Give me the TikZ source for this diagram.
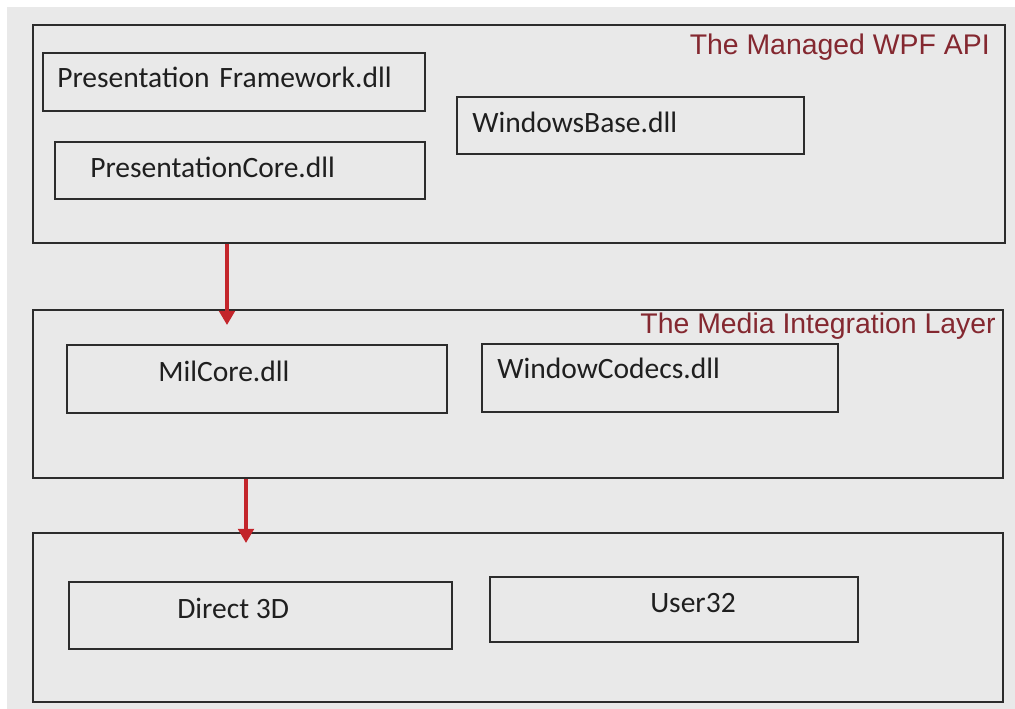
\documentclass[tikz,border=0pt]{standalone}
\usepackage{fontspec}
\setmainfont{Carlito}
\newfontfamily\titlefont{Liberation Sans}
\usetikzlibrary{arrows.meta}
\definecolor{panelgray}{HTML}{E9E9E9}
\definecolor{edgegray}{HTML}{2C2C2C}
\definecolor{titlered}{HTML}{842830}
\definecolor{flowred}{HTML}{C3252B}

\begin{document}
\begin{tikzpicture}
  [x=0.025cm,y=-0.025cm,
   layer/.style={shape=rectangle,draw=edgegray,line width=1.5pt,inner sep=0pt},
   dll/.style={shape=rectangle,draw=edgegray,line width=1.5pt,inner sep=0pt},
   dlltext/.style={anchor=base west,inner sep=0pt,text=black!88,
                   font=\fontsize{21}{25}\selectfont},
   layertitle/.style={anchor=base east,inner sep=0pt,text=titlered,
                      font=\titlefont\fontsize{20.2}{24}\selectfont},
   flow/.style={draw=flowred,line width=2.6pt,-{Triangle[length=10pt,width=11pt]}}]
\useasboundingbox (0,0) rectangle (1015,709);
\fill [white] (0,0) rectangle (1015,709);
\fill [panelgray] (7,7) rectangle (1015,709);

% layers
\node [layer,minimum width=24.3cm,minimum height=5.45cm]   (wpf) at (519,134)   {};
\node [layer,minimum width=24.25cm,minimum height=4.2cm]   (mil) at (518,394)   {};
\node [layer,minimum width=24.25cm,minimum height=4.225cm] (os)  at (518,617.5) {};

\node [layertitle] (wpftitle) at (990,55)  {The Managed WPF API};
\node [layertitle] (miltitle) at (996,333) {The Media Integration Layer};

% dll boxes
\node [dll,minimum width=9.55cm,minimum height=1.45cm]   (pfw)   at (234,82)    {};
\node [dll,minimum width=9.25cm,minimum height=1.425cm]  (pcore) at (240,170.5) {};
\node [dll,minimum width=8.675cm,minimum height=1.425cm] (wbase) at (630.5,125.5) {};
\node [dll,minimum width=9.5cm,minimum height=1.7cm]     (milc)  at (257,379)   {};
\node [dll,minimum width=8.9cm,minimum height=1.7cm]     (wcod)  at (660,378)   {};
\node [dll,minimum width=9.575cm,minimum height=1.675cm] (d3d)   at (260.5,615.5) {};
\node [dll,minimum width=9.2cm,minimum height=1.625cm]   (u32)   at (674,609.5) {};

\node [dlltext] (pfwtext)   at (57,88)   {Presentation\,\,Framework.dll};
\node [dlltext] (pcoretext) at (90,178)  {PresentationCore.dll};
\node [dlltext] (wbasetext) at (472,133) {WindowsBase.dll};
\node [dlltext] (milctext)  at (158,381) {MilCore.dll};
\node [dlltext] (wcodtext)  at (497,378) {WindowCodecs.dll};
\node [dlltext] (d3dtext)   at (177,618) {Direct 3D};
\node [dlltext] (u32text)   at (650,612) {User32};

% calls down the stack
\coordinate (tip1) at (227,325);
\coordinate (tip2) at (246,543);
\draw [flow] (227,0 |- wpf.south) -- (tip1);
\draw [flow] (246,0 |- mil.south) -- (tip2);
\end{tikzpicture}
\end{document}
